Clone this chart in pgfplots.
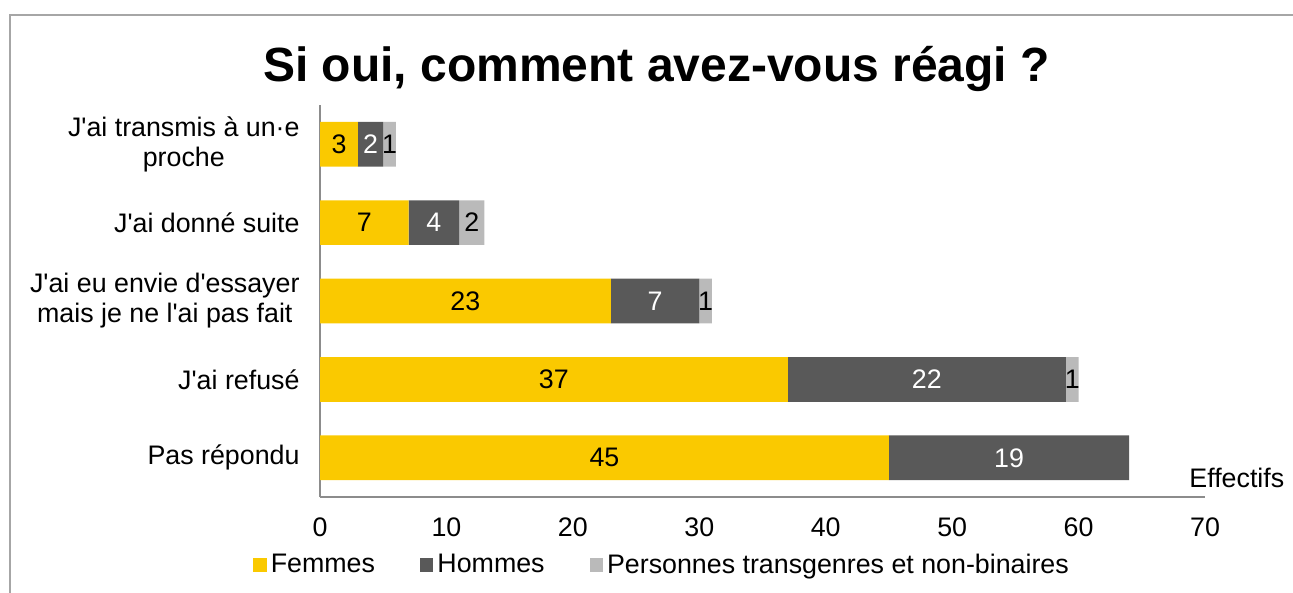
\documentclass[border=0pt]{standalone}
\usepackage{fontspec}
\setmainfont{Liberation Sans}[Ligatures=TeXOff]
\usepackage{pgfplots}
\usepackage{pgfplotstable}
\pgfplotsset{compat=1.18}
\pgfplotsset{/pgf/number format/assume math mode=true}
\definecolor{cF}{RGB}{250,201,0}
\definecolor{cH}{RGB}{89,89,89}
\definecolor{cT}{RGB}{186,186,186}
\definecolor{framegray}{RGB}{166,166,166}
\definecolor{axisgray}{RGB}{140,140,140}
\newcommand\bodyfont{\fontsize{13.4pt}{15pt}\selectfont}
\pgfplotstableread{
y F H T
0 45 19 0
1 37 22 1
2 23 7 1
3 7 4 2
4 3 2 1
}\data
\begin{document}
\begin{tikzpicture}
\useasboundingbox (0,0) rectangle (646.5pt,-296.5pt);
\draw[framegray, line width=0.8pt] (5pt,-296.5pt) -- (5pt,-7.5pt) -- (646.5pt,-7.5pt);
\pgfplotsset{base/.style={at={(160pt,-248.5pt)}, anchor=south west, scale only axis,
  width=442.5pt, height=196pt, xmin=0, xmax=70, ymin=-0.5, ymax=4.5},
  sq/.style={legend image code/.code={\fill[##1] (0pt,-3.4pt) rectangle (6.7pt,3.4pt);}}}
\begin{axis}[base, xbar stacked, bar width=22.35pt,
  axis x line*=bottom, axis y line*=left,
  axis line style={axisgray, line width=0.75pt},
  xtick={0,10,...,70}, ytick={0,...,4},
  yticklabels={Pas répondu, J'ai refusé, {J'ai eu envie d'essayer\\mais je ne l'ai pas fait}, J'ai donné suite, {J'ai transmis à un·e\\proche}},
  major tick length=0pt,
  tick label style={font=\bodyfont},
  xticklabel style={yshift=-7pt},
  yticklabel style={align=center, xshift=-6.7pt},
  legend columns=3,
  legend style={draw=none, fill=none, at={(-0.0757,-0.1735)}, anchor=west, inner sep=0pt, font=\bodyfont,
    /tikz/every even column/.append style={column sep=20.5pt}},
]
\addplot[fill=cF, draw=none, sq] table[x=F,y=y]{\data};
\addlegendentry{Femmes}
\addplot[fill=cH, draw=none, sq] table[x=H,y=y]{\data};
\addlegendentry{Hommes}
\addplot[fill=cT, draw=none, sq] table[x=T,y=y]{\data};
\addlegendentry{Personnes transgenres et non-binaires}
\end{axis}
\begin{axis}[base, hide axis, clip=false, nodes near coords, point meta=explicit,
  every node near coord/.append style={anchor=center, font=\bodyfont}]
\addplot[draw=none, mark=none, every node near coord/.append style={text=black}]
  table[x expr=\thisrow{F}/2, y=y, meta=F]{\data};
\addplot[draw=none, mark=none, every node near coord/.append style={text=white}]
  table[x expr=\thisrow{F}+\thisrow{H}/2, y=y, meta=H]{\data};
\addplot[draw=none, mark=none, every node near coord/.append style={text=black},
  restrict expr to domain={\thisrow{T}}{0.5:100}]
  table[x expr=\thisrow{F}+\thisrow{H}+\thisrow{T}/2, y=y, meta=T]{\data};
\end{axis}
\node[anchor=base west, font=\bodyfont, inner sep=0pt] at (594.5pt,-243.5pt) {Effectifs};
\node[anchor=base, font=\fontsize{24pt}{28pt}\selectfont\bfseries, inner sep=0pt] at (328.25pt,-41pt) {Si oui, comment avez-vous réagi ?};
\end{tikzpicture}
\end{document}
